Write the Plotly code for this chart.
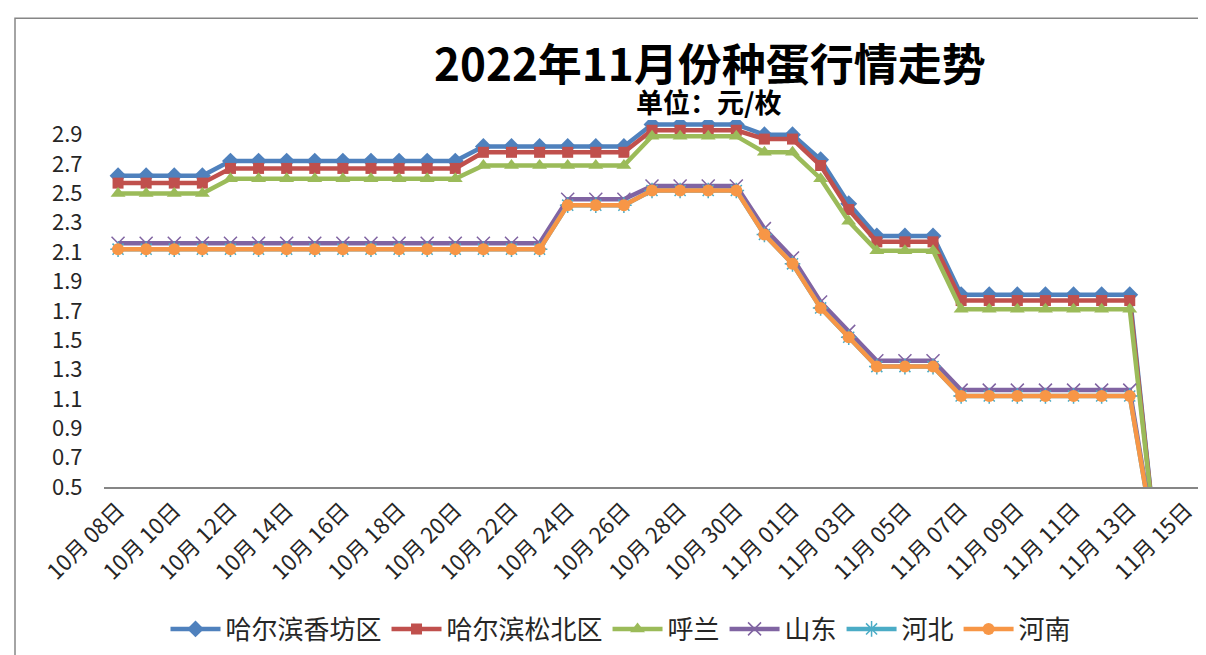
import plotly.graph_objects as go

dates = ["2022-10-%02d" % d for d in range(8, 32)] + ["2022-11-%02d" % d for d in range(1, 15)]

xiangfang = [2.62, 2.62, 2.62, 2.62,
             2.72, 2.72, 2.72, 2.72, 2.72, 2.72, 2.72, 2.72, 2.72,
             2.82, 2.82, 2.82, 2.82, 2.82, 2.82,
             2.97, 2.97, 2.97, 2.97,
             2.90, 2.90, 2.73, 2.43, 2.21, 2.21, 2.21,
             1.81, 1.81, 1.81, 1.81, 1.81, 1.81, 1.81, 0]
songbei = [2.57, 2.57, 2.57, 2.57,
           2.67, 2.67, 2.67, 2.67, 2.67, 2.67, 2.67, 2.67, 2.67,
           2.78, 2.78, 2.78, 2.78, 2.78, 2.78,
           2.93, 2.93, 2.93, 2.93,
           2.87, 2.87, 2.69, 2.39, 2.17, 2.17, 2.17,
           1.77, 1.77, 1.77, 1.77, 1.77, 1.77, 1.77, 0]
hulan = [2.50, 2.50, 2.50, 2.50,
         2.60, 2.60, 2.60, 2.60, 2.60, 2.60, 2.60, 2.60, 2.60,
         2.69, 2.69, 2.69, 2.69, 2.69, 2.69,
         2.89, 2.89, 2.89, 2.89,
         2.78, 2.78, 2.60, 2.31, 2.11, 2.11, 2.11,
         1.71, 1.71, 1.71, 1.71, 1.71, 1.71, 1.71, 0]
shandong = [2.16, 2.16, 2.16, 2.16, 2.16, 2.16, 2.16, 2.16, 2.16, 2.16, 2.16, 2.16, 2.16, 2.16, 2.16, 2.16,
            2.46, 2.46, 2.46,
            2.55, 2.55, 2.55, 2.55,
            2.26, 2.06, 1.76, 1.56, 1.36, 1.36, 1.36,
            1.16, 1.16, 1.16, 1.16, 1.16, 1.16, 1.16, 0]
hebei = [2.12, 2.12, 2.12, 2.12, 2.12, 2.12, 2.12, 2.12, 2.12, 2.12, 2.12, 2.12, 2.12, 2.12, 2.12, 2.12,
         2.42, 2.42, 2.42,
         2.52, 2.52, 2.52, 2.52,
         2.22, 2.02, 1.72, 1.52, 1.32, 1.32, 1.32,
         1.12, 1.12, 1.12, 1.12, 1.12, 1.12, 1.12, 0]
henan = [2.12, 2.12, 2.12, 2.12, 2.12, 2.12, 2.12, 2.12, 2.12, 2.12, 2.12, 2.12, 2.12, 2.12, 2.12, 2.12,
         2.42, 2.42, 2.42,
         2.52, 2.52, 2.52, 2.52,
         2.22, 2.02, 1.72, 1.52, 1.32, 1.32, 1.32,
         1.12, 1.12, 1.12, 1.12, 1.12, 1.12, 1.12, 0]

tick_dates = ["2022-10-08", "2022-10-10", "2022-10-12", "2022-10-14", "2022-10-16", "2022-10-18",
              "2022-10-20", "2022-10-22", "2022-10-24", "2022-10-26", "2022-10-28", "2022-10-30",
              "2022-11-01", "2022-11-03", "2022-11-05", "2022-11-07", "2022-11-09", "2022-11-11",
              "2022-11-13", "2022-11-15"]
tick_labels = ["10月 08日", "10月 10日", "10月 12日", "10月 14日", "10月 16日", "10月 18日",
               "10月 20日", "10月 22日", "10月 24日", "10月 26日", "10月 28日", "10月 30日",
               "11月 01日", "11月 03日", "11月 05日", "11月 07日", "11月 09日", "11月 11日",
               "11月 13日", "11月 15日"]
y_ticks = [0.5, 0.7, 0.9, 1.1, 1.3, 1.5, 1.7, 1.9, 2.1, 2.3, 2.5, 2.7, 2.9]

FONT = "Noto Sans CJK SC"

series = [
    ("哈尔滨香坊区", xiangfang, "#4F81BD", dict(symbol="diamond", size=13)),
    ("哈尔滨松北区", songbei, "#C0504D", dict(symbol="square", size=11)),
    ("呼兰", hulan, "#9BBB59", dict(symbol="triangle-up", size=13)),
    ("山东", shandong, "#8064A2", dict(symbol="x-thin-open", size=13, line=dict(width=1.5, color="#8064A2"))),
    ("河北", hebei, "#4BACC6", dict(symbol="asterisk-open", size=13, line=dict(width=1.5, color="#4BACC6"))),
    ("河南", henan, "#F79646", dict(symbol="circle", size=12)),
]

fig = go.Figure()
for name, vals, color, mk in series:
    m = dict(color=color)
    m.update(mk)
    fig.add_trace(go.Scatter(x=dates, y=vals, name=name, mode="lines+markers",
                             line=dict(color=color, width=4.5), marker=m))

W, H = 1206, 655
L, R, T, B = 96, 14, 112, 175
pw, ph = W - L - R, H - T - B

def px(x):
    return (x - L) / pw

def py(y):
    return (H - B - y) / ph

fig.update_layout(
    width=W, height=H,
    margin=dict(l=L, r=R, t=T, b=B),
    paper_bgcolor="white", plot_bgcolor="white",
    font=dict(family=FONT, color="#262626"),
    showlegend=True,
    legend=dict(orientation="h", x=px(613), y=py(621), xanchor="center", yanchor="middle",
                font=dict(size=26, family=FONT, color="#262626"), itemwidth=50,
                bgcolor="rgba(0,0,0,0)", tracegroupgap=0),
    xaxis=dict(type="date", range=["2022-10-07 12:00", "2022-11-15 12:00"],
               tickvals=tick_dates, ticktext=tick_labels, tickangle=-45,
               tickfont=dict(size=22, family=FONT, color="#262626"),
               showgrid=False, zeroline=False, showline=True, linecolor="#868686", linewidth=1.5,
               ticks=""),
    yaxis=dict(range=[0.5, 3.0], tickvals=y_ticks, ticktext=["%.1f" % v for v in y_ticks],
               tickfont=dict(size=22, family=FONT, color="#262626"),
               showgrid=False, zeroline=False, showline=False,
               ticks="outside", ticklen=16, tickcolor="rgba(0,0,0,0)"),
    annotations=[
        dict(text="<b>2022年11月份种蛋行情走势</b>", x=px(702), y=py(54), xref="paper", yref="paper",
             showarrow=False, xanchor="center", yanchor="middle",
             font=dict(size=44, family=FONT, color="#000000")),
        dict(text="<b>单位：元/枚</b>", x=px(700), y=py(93), xref="paper", yref="paper",
             showarrow=False, xanchor="center", yanchor="middle",
             font=dict(size=27, family=FONT, color="#000000")),
    ],
    shapes=[
        dict(type="rect", xref="paper", yref="paper",
             x0=px(7), x1=px(1215), y0=py(665), y1=py(10),
             line=dict(color="#868686", width=1.5), fillcolor="rgba(0,0,0,0)", layer="below"),
    ],
)

fig.write_html("out.html")
